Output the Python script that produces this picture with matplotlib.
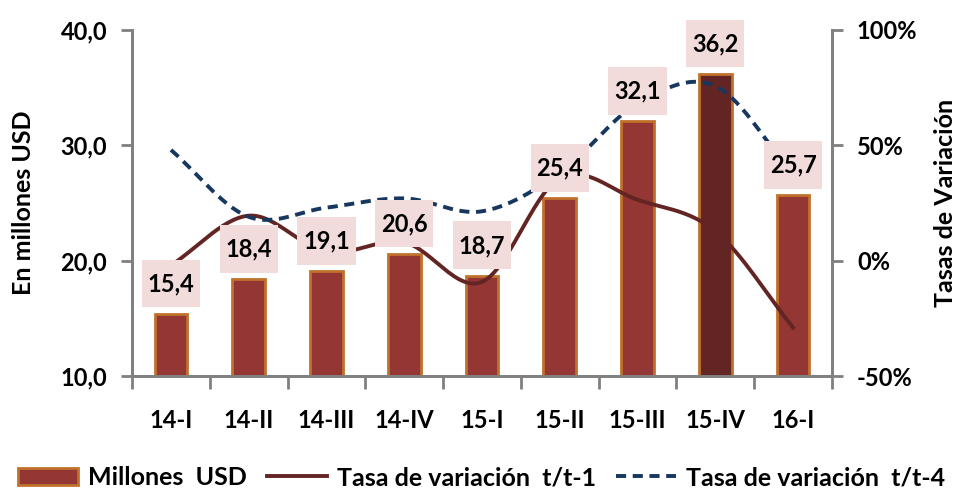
import matplotlib
matplotlib.use('Agg')
import matplotlib.pyplot as plt
from matplotlib.patches import Rectangle, Patch
from matplotlib.lines import Line2D
import numpy as np

plt.rcParams['font.family'] = ['Lato', 'DejaVu Sans']

# data
quarters = ['14-I', '14-II', '14-III', '14-IV', '15-I', '15-II', '15-III', '15-IV', '16-I']
millones = [15.4, 18.4, 19.1, 20.6, 18.7, 25.4, 32.1, 36.2, 25.7]
var_t1 = [-2, 19.5, 3.8, 7.9, -9.2, 35.8, 26.4, 12.8, -29.0]
var_t4 = [48, 19, 23, 27, 21.4, 38.0, 68.1, 75.7, 37.4]
bar_labels = ['15,4', '18,4', '19,1', '20,6', '18,7', '25,4', '32,1', '36,2', '25,7']


def smooth(y, n=30):
    # catmull-rom style smoothing like Excel's smoothed lines
    y = np.asarray(y, dtype=float)
    p = np.concatenate([[2 * y[0] - y[1]], y, [2 * y[-1] - y[-2]]])
    xs, ys = [], []
    for i in range(len(y) - 1):
        p0, p1, p2, p3 = p[i], p[i + 1], p[i + 2], p[i + 3]
        t = np.linspace(0, 1, n, endpoint=False)
        v = 0.5 * ((2 * p1) + (-p0 + p2) * t + (2 * p0 - 5 * p1 + 4 * p2 - p3) * t ** 2
                   + (-p0 + 3 * p1 - 3 * p2 + p3) * t ** 3)
        xs.extend(i + t)
        ys.extend(v)
    xs.append(len(y) - 1)
    ys.append(y[-1])
    return np.array(xs), np.array(ys)


fig = plt.figure(figsize=(9.64, 4.95), dpi=100)
ax = fig.add_axes([0.137, 0.2404, 0.726, 0.699])
ax2 = ax.twinx()

x = np.arange(len(quarters))
colors = ['#943634'] * len(quarters)
colors[7] = '#632523'
ax.bar(x, [m - 10 for m in millones], bottom=10, width=0.42, color=colors,
       edgecolor='#C0712C', linewidth=2, zorder=2)

ax.set_xlim(-0.5, len(quarters) - 0.5)
ax.set_ylim(10, 40)
ax.set_yticks([10, 20, 30, 40])
ax.set_yticklabels(['10,0', '20,0', '30,0', '40,0'])
ax.set_xticks(x)
ax.set_xticklabels(quarters)
ax.set_xticks(np.arange(-0.5, len(quarters)), minor=True)
ax.tick_params(axis='x', which='major', length=0, pad=24, labelsize=17)
ax.tick_params(axis='x', which='minor', length=9, width=2, color='#808080')
ax.tick_params(axis='y', length=8, width=2, color='#808080', labelsize=17, pad=10)
for lbl in ax.get_xticklabels() + ax.get_yticklabels():
    lbl.set_fontweight('bold')

ax2.set_ylim(-50, 100)
ax2.set_yticks([-50, 0, 50, 100])
ax2.set_yticklabels(['-50%', '0%', '50%', '100%'])
ax2.tick_params(axis='y', length=8, width=2, color='#808080', labelsize=17, pad=10)
for lbl in ax2.get_yticklabels():
    lbl.set_fontweight('bold')

for a in (ax, ax2):
    a.spines['top'].set_visible(False)
    for s in ('left', 'right', 'bottom'):
        a.spines[s].set_color('#808080')
        a.spines[s].set_linewidth(2)

sx, sy = smooth(var_t1)
ax2.plot(sx, sy, color='#632523', linewidth=2.8, zorder=2)
sx, sy = smooth(var_t4)
ax2.plot(sx, sy, color='#17375E', linewidth=2.8, linestyle=(0, (2.6, 1.7)), zorder=2)

# label boxes drawn above the lines
for i, (m, s) in enumerate(zip(millones, bar_labels)):
    ax2.add_patch(Rectangle((i - 0.375, m + 0.55), 0.75, 4.15, transform=ax.transData,
                            facecolor='#F2DCDB', edgecolor='none', zorder=4, clip_on=False))
    ax2.text(i, m + 2.6, s, transform=ax.transData, ha='center', va='center',
             fontsize=17, fontweight='bold', zorder=5, clip_on=False)

ax.set_ylabel('En millones USD', fontsize=18, fontweight='bold', labelpad=18)
ax2.set_ylabel('Tasas de Variación', fontsize=18, fontweight='bold', labelpad=12)

handles = [Patch(facecolor='#943634', edgecolor='#C0712C', linewidth=2),
           Line2D([], [], color='#632523', linewidth=2.8),
           Line2D([], [], color='#17375E', linewidth=2.8, linestyle=(0, (2.6, 1.7)))]
labels = ['Millones  USD', 'Tasa de variación  t/t-1', 'Tasa de variación  t/t-4']
fig.legend(handles, labels, loc='center', bbox_to_anchor=(0.5, 0.035), ncol=3,
           frameon=False, prop={'size': 18, 'weight': 'bold'}, handlelength=2.4,
           handletextpad=0.4, columnspacing=0.8)

fig.savefig('out.png', dpi=100)
